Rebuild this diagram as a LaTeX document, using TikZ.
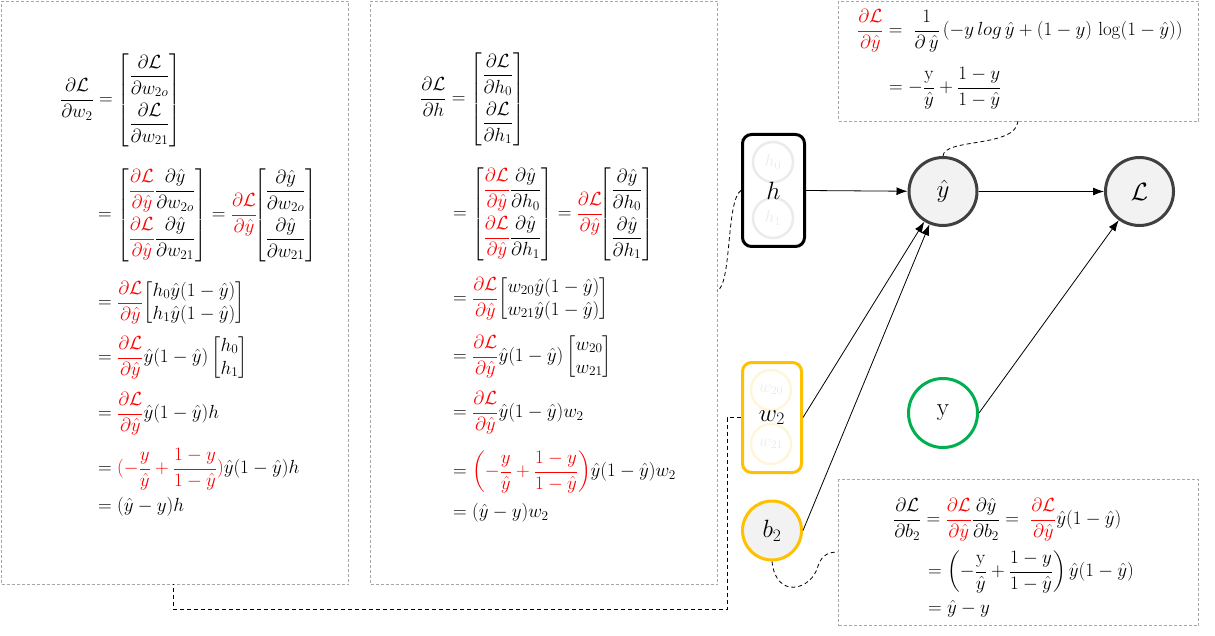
\RequirePackage{fix-cm}
\documentclass[tikz,border=0pt]{standalone}
\usepackage{amsmath}
\usetikzlibrary{arrows.meta}
\definecolor{boxgray}{HTML}{A6A6A6}
\definecolor{nodegray}{HTML}{404040}
\definecolor{nodefill}{HTML}{F2F2F2}
\definecolor{myorange}{HTML}{FFC000}
\definecolor{mygreen}{HTML}{00B050}
\definecolor{faintgray}{HTML}{EBEBEB}
\definecolor{faintorange}{HTML}{FFF6DA}
\newcommand{\yh}{\hat{y}}
\newcommand{\dLy}{\textcolor{red}{\dfrac{\partial\mathcal{L}}{\partial\hat{y}}}}
\newcommand{\omy}{\hat{y}(1-\hat{y})}
\newcommand{\rowgap}{\\[15pt]}
\begin{document}
\begin{tikzpicture}[x=1pt,y=-1pt,
  gbox/.style={draw=boxgray, line width=1pt, dash pattern=on 3pt off 2pt, anchor=north west, inner sep=0pt},
  eq/.style={anchor=base west, inner sep=0pt, font=\fontsize{19}{23}\selectfont},
  lbl/.style={font=\fontsize{25}{30}\selectfont},
  gcirc/.style={circle, draw=nodegray, fill=nodefill, line width=3pt, minimum size=68pt, inner sep=0pt, lbl},
  conn/.style={line width=0.8pt, -{Latex[length=11pt,width=8pt]}},
  dconn/.style={line width=0.8pt, dash pattern=on 4pt off 3pt},
  faint/.style={circle, line width=2.5pt, minimum size=40pt, inner sep=0pt, font=\fontsize{17}{20}\selectfont}
]
\useasboundingbox (0,0) rectangle (1215,636);
% boxes
\node[gbox, minimum width=347pt, minimum height=583pt] (boxL) at (1,1) {};
\node[gbox, minimum width=347pt, minimum height=583pt] (boxM) at (370,1) {};
\node[gbox, minimum width=360pt, minimum height=120pt] (boxT) at (838,1) {};
\node[gbox, minimum width=360pt, minimum height=146pt] (boxB) at (838,479) {};

% left box equations
\node[eq] (l1) at (60,104.75) {$\dfrac{\partial\mathcal{L}}{\partial w_2}=\begin{bmatrix}\dfrac{\partial\mathcal{L}}{\partial w_{2o}}\rowgap\dfrac{\partial\mathcal{L}}{\partial w_{21}}\end{bmatrix}$};
\node[eq] (l2) at (98,219.75) {$=\begin{bmatrix}\dLy\dfrac{\partial\yh}{\partial w_{2o}}\rowgap\dLy\dfrac{\partial\yh}{\partial w_{21}}\end{bmatrix}=\dLy\!\!\begin{bmatrix}\dfrac{\partial\yh}{\partial w_{2o}}\rowgap\dfrac{\partial\yh}{\partial w_{21}}\end{bmatrix}$};
\node[eq] (l3) at (98,307.75) {$=\dLy\!\begin{bmatrix}h_0\omy\\ h_1\omy\end{bmatrix}$};
\node[eq] (l4) at (98,362.75) {$=\dLy\omy\begin{bmatrix}h_0\\ h_1\end{bmatrix}$};
\node[eq] (l5) at (98,418.75) {$=\dLy\omy h$};
\node[eq] (l6) at (98,473.75) {$=\textcolor{red}{(-\dfrac{y}{\yh}+\dfrac{1-y}{1-\yh})}\omy h$};
\node[eq] (l7) at (98,511.75) {$=(\yh-y)h$};

% middle box equations
\node[eq] (m1) at (420,103.75) {$\dfrac{\partial\mathcal{L}}{\partial h}=\begin{bmatrix}\dfrac{\partial\mathcal{L}}{\partial h_0}\rowgap\dfrac{\partial\mathcal{L}}{\partial h_1}\end{bmatrix}$};
\node[eq] (m2) at (453,218.75) {$=\begin{bmatrix}\dLy\dfrac{\partial\yh}{\partial h_0}\rowgap\dLy\dfrac{\partial\yh}{\partial h_1}\end{bmatrix}=\dLy\!\!\begin{bmatrix}\dfrac{\partial\yh}{\partial h_0}\rowgap\dfrac{\partial\yh}{\partial h_1}\end{bmatrix}$};
\node[eq] (m3) at (453,303.75) {$=\dLy\!\begin{bmatrix}w_{20}\omy\\ w_{21}\omy\end{bmatrix}$};
\node[eq] (m4) at (453,361.75) {$=\dLy\omy\begin{bmatrix}w_{20}\\ w_{21}\end{bmatrix}$};
\node[eq] (m5) at (453,417.75) {$=\dLy\omy w_2$};
\node[eq] (m6) at (453,476.75) {$=\textcolor{red}{\left(-\dfrac{y}{\yh}+\dfrac{1-y}{1-\yh}\right)}\omy w_2$};
\node[eq] (m7) at (453,517.75) {$=(\yh-y)w_2$};

% top right box
\node[eq] (t1) at (857,35.75) {$\dLy=\ \dfrac{1}{\partial\,\yh}\,(-y\,log\,\yh+(1-y)\,\log(1-\yh))$};
\node[eq] (t2) at (889,92.75) {$=-\dfrac{\mathrm{y}}{\yh}+\dfrac{1-y}{1-\yh}$};

% bottom right box
\node[eq] (b1) at (893,524.75) {$\dfrac{\partial\mathcal{L}}{\partial b_2}=\dLy\dfrac{\partial\yh}{\partial b_2}=\ \dLy\omy$};
\node[eq] (bb2) at (928,576.75) {$=\left(-\dfrac{\mathrm{y}}{\yh}+\dfrac{1-y}{1-\yh}\right)\omy$};
\node[eq] (bb3) at (928,613.75) {$=\yh-y$};

% faint inner circles
\node[faint, draw=faintgray, text=faintgray] (h0) at (773,162) {$h_0$};
\node[faint, draw=faintgray, text=faintgray] (h1) at (773,218) {$h_1$};
\node[faint, draw=faintorange, text=faintgray] (w20) at (771,390) {$w_{20}$};
\node[faint, draw=faintorange, text=faintgray] (w21) at (771,444) {$w_{21}$};

% graph nodes
\node[draw=black, line width=3pt, rounded corners=9pt, minimum width=62pt, minimum height=112pt, inner sep=0pt, lbl] (h) at (773.5,190.5) {$h$};
\node[draw=myorange, line width=3pt, rounded corners=9pt, minimum width=59pt, minimum height=110pt, inner sep=0pt, lbl] (w2) at (772,417.5) {$w_2$};
\node[circle, draw=myorange, fill=nodefill, line width=3pt, minimum size=59pt, inner sep=0pt, lbl] (b2) at (772,530.5) {$b_2$};
\node[gcirc] (yh) at (943,191.5) {$\hat{y}$};
\node[gcirc] (L) at (1139.5,191.5) {$\mathcal{L}$};
\node[circle, draw=mygreen, line width=3pt, minimum size=69pt, inner sep=0pt, lbl] (y) at (943,413) {y};

% arrows
\draw[conn] (h.east) -- (yh);
\draw[conn] (w2.east) -- (yh);
\draw[conn] (b2.east) -- (yh);
\draw[conn] (yh.east) -- (L.west);
\draw[conn] (y.east) -- (L);

% dashed links
\coordinate (tb) at (1018,121);
\coordinate (mr) at (717,291);
\coordinate (lb) at (173,584);
\coordinate (bl) at (838,552);
\draw[dconn] (yh.north) .. controls (944,138) and (1016,148) .. (tb);
\draw[dconn] (h.west) .. controls (726,200) and (732,285) .. (mr);
\draw[dconn] (w2.west) -- (727,417.5) -- (727,609) -- (173,609) -- (lb);
\draw[dconn] (b2.south) .. controls (776,600) and (812,590) .. (818,566) .. controls (822,554) and (830,552) .. (bl);
\end{tikzpicture}
\end{document}
